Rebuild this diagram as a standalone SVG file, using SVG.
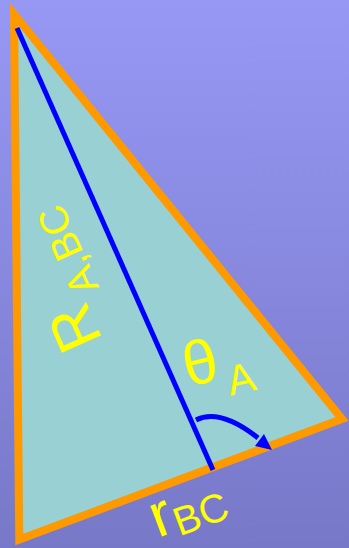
<svg xmlns="http://www.w3.org/2000/svg" width="349" height="548" viewBox="0 0 349 548">
<defs>
<linearGradient id="bg" x1="0" y1="0" x2="0" y2="1">
<stop offset="0" stop-color="#9698f4"/>
<stop offset="1" stop-color="#7878c8"/>
</linearGradient>
<style>
.lbl{font-family:"Liberation Sans",Arial,sans-serif;fill:#ffff00}
.blue{stroke:#0000ff;fill:none;stroke-width:5}
</style>
</defs>
<rect width="349" height="548" fill="url(#bg)"/>
<g id="triangle">
<polygon points="14,14 342,419 19.3,539.6" fill="#99d0d4" stroke="#ff9900" stroke-width="8" stroke-linejoin="miter" stroke-miterlimit="10"/>
</g>
<g id="connectors">
<line class="blue" x1="17" y1="28" x2="213" y2="470"/>
<path class="blue" d="M196,420 Q220,408 258,438"/>
<polygon points="272,450 255,446 264,434" fill="#0000ff"/>
</g>
<g id="label-R">
<text class="lbl" font-size="62" transform="translate(103,340) rotate(-114)">R<tspan font-size="40" dx="5" dy="18">A,BC</tspan></text>
</g>
<g id="label-theta">
<text class="lbl" font-size="62" transform="translate(188,387) rotate(-13)">θ<tspan font-size="42" dx="5" dy="18">A</tspan></text>
</g>
<g id="label-r">
<text class="lbl" font-size="62" transform="translate(158,538) rotate(-20.5)">r<tspan font-size="40" dy="6">BC</tspan></text>
</g>
</svg>
